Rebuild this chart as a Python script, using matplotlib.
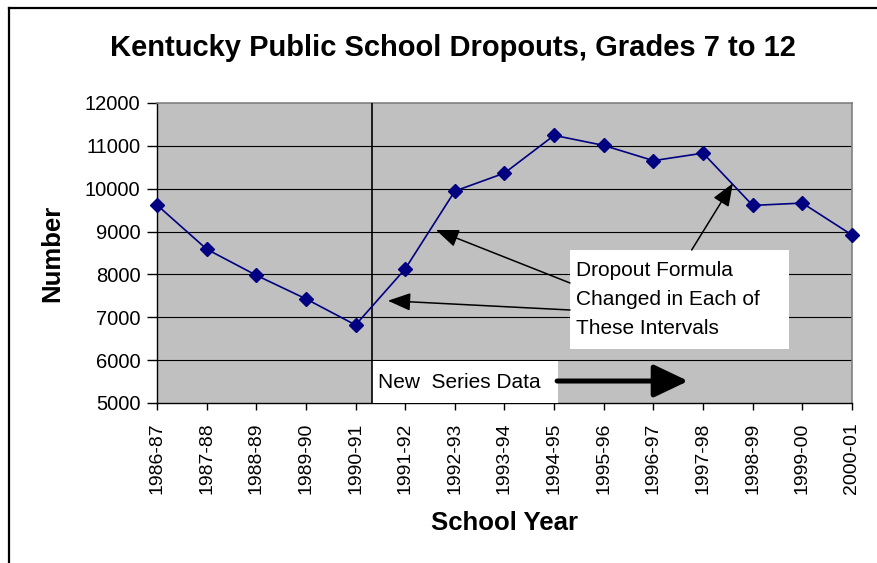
import matplotlib
matplotlib.use("Agg")
import matplotlib.pyplot as plt
from matplotlib.patches import Rectangle, FancyArrowPatch
from matplotlib.lines import Line2D

plt.rcParams['font.family'] = ['Liberation Sans', 'DejaVu Sans']

years = ["1986-87", "1987-88", "1988-89", "1989-90", "1990-91", "1991-92",
         "1992-93", "1993-94", "1994-95", "1995-96", "1996-97", "1997-98",
         "1998-99", "1999-00", "2000-01"]
dropouts = [9620, 8590, 7980, 7430, 6820, 8130, 9945, 10365, 11245, 11010,
            10655, 10830, 9610, 9665, 8920]
y_ticks = [5000, 6000, 7000, 8000, 9000, 10000, 11000, 12000]

fig = plt.figure(figsize=(8.78, 5.63), dpi=100)
fig.patch.set_facecolor("white")

# outer frame: top and left edges
fig.add_artist(Line2D([9/878, 1.0], [1 - 8/563, 1 - 8/563], color="black", lw=1.6,
                      transform=fig.transFigure))
fig.add_artist(Line2D([9/878, 9/878], [0.0, 1 - 8/563], color="black", lw=1.6,
                      transform=fig.transFigure))

ax = fig.add_axes([157/878, 1 - 403/563, 695/878, 300/563])
ax.set_facecolor("#C0C0C0")
x = list(range(len(years)))
ax.set_xlim(0, len(years) - 1)
ax.set_ylim(5000, 12000)

for v in y_ticks[1:-1]:
    ax.axhline(v, color="black", lw=0.8, zorder=1)

for side in ("top", "right"):
    ax.spines[side].set_color("#808080")
    ax.spines[side].set_linewidth(1.2)
for side in ("left", "bottom"):
    ax.spines[side].set_color("black")
    ax.spines[side].set_linewidth(1.0)

ax.set_yticks(y_ticks)
ax.set_yticklabels([str(v) for v in y_ticks], fontsize=14.5)
ax.set_xticks(x)
ax.set_xticklabels(years, rotation=90, fontsize=14)
ax.tick_params(axis="y", direction="out", length=7, width=1, pad=5)
ax.tick_params(axis="x", direction="out", length=5, width=1, pad=9)

ax.plot(x, dropouts, color="#000080", lw=1.2, marker="D", ms=7,
        mec="#000080", mfc="#000080", zorder=5, clip_on=False)

# series break marker
ax.plot([4.325, 4.325], [5000, 12000], color="black", lw=1.2, zorder=4)

# "New Series Data" label with arrow
ax.add_patch(Rectangle((4.33, 5000), 8.08 - 4.33, 5980 - 5000, facecolor="white",
                       edgecolor="none", zorder=3))
ax.text(4.45, 5490, "New  Series Data", fontsize=15, va="center", ha="left", zorder=6)
ax.add_patch(FancyArrowPatch((8.06, 5513), (10.70, 5513),
                             arrowstyle="-|>,head_length=21,head_width=10",
                             mutation_scale=1, lw=3.6, color="black",
                             capstyle="round", shrinkA=0, shrinkB=0, zorder=6))

# formula-change callout
ax.add_patch(Rectangle((8.32, 6260), 12.73 - 8.32, 8570 - 6260, facecolor="white",
                       edgecolor="none", zorder=3))
ax.text(8.45, 7415, "Dropout Formula\nChanged in Each of\nThese Intervals",
        fontsize=15, va="center", ha="left", linespacing=1.7, zorder=6)
for start, tip in [((8.32, 7800), (5.62, 9037)),
                   ((8.32, 7170), (4.65, 7387)),
                   ((10.77, 8570), (11.60, 10126))]:
    ax.add_patch(FancyArrowPatch(start, tip,
                                 arrowstyle="-|>,head_length=14,head_width=5.5",
                                 mutation_scale=1, lw=1.1, color="black",
                                 shrinkA=0, shrinkB=0, zorder=6))

fig.text(453/878, 1 - 48/563, "Kentucky Public School Dropouts, Grades 7 to 12",
         fontsize=21, fontweight="bold", ha="center", va="center")
fig.text(505/878, 1 - 523/563, "School Year", fontsize=18.5, fontweight="bold",
         ha="center", va="center")
fig.text(52/878, 1 - 253/563, "Number", fontsize=18.5, fontweight="bold",
         ha="center", va="center", rotation=90)

fig.savefig("out.png", dpi=100)
